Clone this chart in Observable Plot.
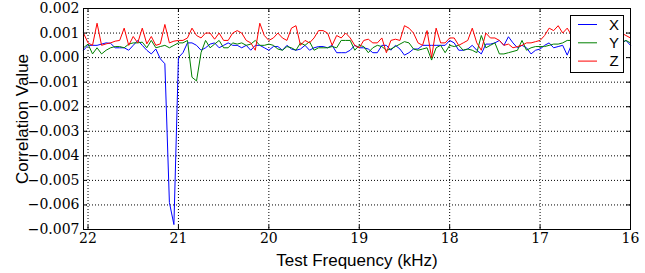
<!DOCTYPE html>
<html><head><meta charset="utf-8">
<script src="https://cdn.jsdelivr.net/npm/d3@7"></script>
<script src="https://cdn.jsdelivr.net/npm/@observablehq/plot@0.6"></script>
<style>body{margin:0;background:#fff}#chart svg{display:block}
#chart svg text.tickserif{font-family:"DejaVu Serif",serif !important;}
</style>
</head><body><div id="chart"></div>
<script>
const freqs = [22.05,
 22.00,21.95,21.90,21.85,21.80,21.75,21.70,21.65,21.60,21.55,21.50,21.45,21.40,21.35,21.30,21.25,21.20,21.15,21.10,21.05,21.00,
 20.95,20.90,20.85,20.80,20.75,20.70,20.65,20.60,20.55,20.50,20.45,20.40,20.35,20.30,20.25,20.20,20.15,20.10,20.05,20.00,
 19.95,19.90,19.85,19.80,19.75,19.70,19.65,19.60,19.55,19.50,19.45,19.40,19.35,19.30,19.25,19.20,19.15,19.10,19.05,19.00,
 18.95,18.90,18.85,18.80,18.75,18.70,18.65,18.60,18.55,18.50,18.45,18.40,18.35,18.30,18.25,18.20,18.15,18.10,18.05,18.00,
 17.95,17.90,17.85,17.80,17.75,17.70,17.65,17.60,17.55,17.50,17.45,17.40,17.35,17.30,17.25,17.20,17.15,17.10,17.05,17.00,
 16.95,16.90,16.85,16.80,16.75,16.70,16.65,16.60,16.55,16.50,16.45,16.40,16.35,16.30,16.25,16.20,16.15,16.10,16.05,16.00];

const seriesNames = ["X", "Y", "Z"];
const seriesColors = ["#0000ff", "#008000", "#ff0000"];

const xValues = [0.0003,
 0.0005,0.0005,0.0005,0.00055,0.0006,0.00058,0.0004,0.0004,0.0004,0.0003,0.0005,0.0007,0.0005,0.0003,0.00015,0.00035,-0.00005,-0.00025,-0.0059,-0.0068,0.0000,
 0.0002,0.0006,0.0006,0.0005,0.0003,0.0004,0.00055,0.0006,0.0004,0.0005,0.0006,0.0005,0.0005,0.0004,0.0005,0.0003,0.0005,0.0005,0.0004,0.0003,
 0.00045,0.00045,0.0003,0.0005,0.00035,0.0003,0.00035,0.0005,0.0003,0.0004,0.00045,0.00045,0.0004,0.0005,0.0002,0.0002,0.0002,0.0003,0.0005,0.0004,
 0.0004,0.00035,0.0002,0.0002,0.0005,0.0005,0.0003,0.0005,0.00035,0.0001,0.0002,0.00035,0.00035,0.0005,0.0005,0.0005,0.0005,0.0005,0.0005,0.0007,
 0.0006,0.0003,0.0003,0.00035,0.0005,0.0003,0.00015,0.00055,0.00055,0.0006,0.0007,0.0005,0.00085,0.0006,0.0004,0.0005,0.0004,0.00015,0.0003,0.00035,
 0.0005,0.0006,0.0004,0.00045,0.0005,0.0001,0.00055,0.0005,0.0006,0.0004,0.0005,0.0006,0.0005,0.0004,0.0006,0.0005,0.0006,0.0006,0.0007,0.0005];

const yValues = [0.0004,
 0.00055,0.00015,0.0004,0.00015,0.0003,0.0004,0.00045,0.00045,0.0004,0.00055,0.0006,0.0006,0.00063,0.0004,0.0007,0.0004,0.00045,0.0005,0.0004,0.0005,0.0006,
 0.0006,0.0007,-0.0008,-0.00095,0.0002,0.0007,0.0004,0.00055,0.0007,0.0004,0.0004,0.0006,0.00055,0.0006,0.0005,0.00055,0.0007,0.0005,0.0005,0.00055,
 0.0005,0.00035,0.0003,0.00045,0.0004,0.0003,0.0006,0.0005,0.00065,0.0003,0.0004,0.0004,0.0004,0.00045,0.0004,0.0007,0.0007,0.0007,0.0003,0.0005,
 0.00045,0.0002,0.0004,0.0005,0.00045,0.0003,0.00035,0.00045,0.00055,0.00065,0.0006,0.00035,0.0003,0.00035,0.0004,-0.0001,0.0004,0.0005,0.0002,0.0005,
 0.00045,0.0005,0.0003,0.00035,0.0003,0.0002,0.0009,0.0004,0.0005,0.0006,0.00015,0.00015,0.0002,0.00025,0.0003,0.0007,0.0003,0.0004,0.00045,0.00045,
 0.00045,0.0005,0.00055,0.00055,0.0006,0.0007,0.0007,0.0006,0.0006,0.0007,0.0006,0.0006,0.0007,0.0006,0.0006,0.0007,0.0006,0.0006,0.0007,0.0006];

const zValues = [0.001,
 0.0006,0.0005,0.0014,0.0005,0.00056,0.0006,0.00067,0.0007,0.0012,0.0005,0.00086,0.0006,0.0012,0.00056,0.00086,0.0005,0.00056,0.00135,0.0006,0.00067,0.0007,
 0.0007,0.0008,0.0012,0.0009,0.0008,0.001,0.001,0.00075,0.001,0.0007,0.0007,0.001,0.0011,0.001,0.0007,0.0006,0.0003,0.0014,0.0009,0.0007,
 0.0008,0.001,0.0008,0.0007,0.0012,0.0013,0.0005,0.0007,0.0006,0.0008,0.0011,0.0011,0.001,0.0005,0.0009,0.0008,0.001,0.0008,0.0005,0.0004,
 0.0007,0.00075,0.0006,0.0006,0.0008,0.0002,0.0007,0.00075,0.0007,0.0013,0.0012,0.001,0.0006,0.0005,0.0011,0.0000,0.0012,0.0006,0.0006,0.0008,
 0.0008,0.0005,0.0006,0.0007,0.0012,0.0006,0.0003,0.001,0.0008,0.0008,0.0007,0.0005,0.00055,0.0004,0.00045,0.0005,0.0006,0.0006,0.00065,0.0007,
 0.0009,0.0012,0.0011,0.0013,0.001,0.0012,0.0009,0.0011,0.0009,0.0012,0.0008,0.001,0.0009,0.0011,0.0008,0.001,0.0009,0.001,0.0009,0.0008];

const xTicks = [22, 21, 20, 19, 18, 17, 16];
const yTicks = [0.002, 0.001, 0.000, -0.001, -0.002, -0.003, -0.004, -0.005, -0.006, -0.007];
const xLabel = "Test Frequency (kHz)";
const yLabel = "Correlation Value";

const rows = [];
[xValues, yValues, zValues].forEach((vals, i) =>
  vals.forEach((v, j) => rows.push({f: freqs[j], v, s: seriesNames[i]})));

const W = 645, H = 273, mL = 83, mR = 15, mT = 8, mB = 44;
const fw = W - mL - mR, fh = H - mT - mB;
const tickLen = 4;
const sans = "'Liberation Sans', Arial, sans-serif";

const chart = Plot.plot({
  width: W, height: H,
  marginLeft: mL, marginRight: mR, marginTop: mT, marginBottom: mB,
  style: {background: "#fff", color: "#000"},
  x: {domain: [22.05, 16]},
  y: {domain: [-0.007, 0.002]},
  color: {domain: seriesNames, range: seriesColors},
  marks: [
    Plot.gridX(xTicks, {stroke: "#000", strokeOpacity: 1, strokeWidth: 1, strokeDasharray: "1,2"}),
    Plot.gridY(yTicks, {stroke: "#000", strokeOpacity: 1, strokeWidth: 1, strokeDasharray: "1,2"}),
    Plot.line(rows, {x: "f", y: "v", z: "s", stroke: "s", strokeWidth: 1}),
    Plot.tickX(xTicks, {x: d => d, insetTop: fh - tickLen, stroke: "#000"}),
    Plot.tickX(xTicks, {x: d => d, insetBottom: fh - tickLen, stroke: "#000"}),
    Plot.tickY(yTicks, {y: d => d, insetRight: fw - tickLen, stroke: "#000"}),
    Plot.tickY(yTicks, {y: d => d, insetLeft: fw - tickLen, stroke: "#000"}),
    Plot.frame({stroke: "#000", strokeWidth: 1}),
    Plot.axisX(xTicks, {tickSize: 0, tickPadding: 4, label: null, fontSize: 14, fill: "#000", tickFormat: d => String(d)}),
    Plot.axisY(yTicks, {tickSize: 0, tickPadding: 4, label: null, fontSize: 14, fill: "#000", tickFormat: d3.format(".3f")}),
    Plot.text([xLabel], {frameAnchor: "bottom", dy: 31, text: d => d, fontSize: 17, fill: "#000", textAnchor: "middle", lineAnchor: "middle"}),
    Plot.text([yLabel], {frameAnchor: "left", dx: -61, rotate: -90, text: d => d, fontSize: 17, fill: "#000", textAnchor: "middle", lineAnchor: "middle"})
  ]
});
document.getElementById("chart").appendChild(chart);

const svg = d3.select(chart);
// tick labels in a serif face, axis titles in sans
svg.selectAll("text").classed("tickserif", true);
svg.selectAll("text").filter(function () { return this.textContent === xLabel || this.textContent === yLabel; })
  .classed("tickserif", false).style("font-family", sans).style("font-size", "17px");

// Legend (matplotlib-style box, upper right)
const lg = svg.append("g").attr("transform", "translate(570,15)");
lg.append("rect").attr("x", 0.5).attr("y", 0.5).attr("width", 53).attr("height", 57)
  .attr("fill", "#fff").attr("stroke", "#000").attr("stroke-width", 1);
seriesNames.forEach((name, i) => {
  const yy = 9.5 + i * 18.3;
  lg.append("line").attr("x1", 8).attr("x2", 27).attr("y1", yy).attr("y2", yy)
    .attr("stroke", seriesColors[i]).attr("stroke-width", 1);
  lg.append("text").attr("x", 44).attr("y", yy).attr("dy", "0.35em")
    .attr("text-anchor", "middle").style("font-family", sans).style("font-size", "15px")
    .attr("fill", "#000").text(name);
});
</script>
</body></html>
